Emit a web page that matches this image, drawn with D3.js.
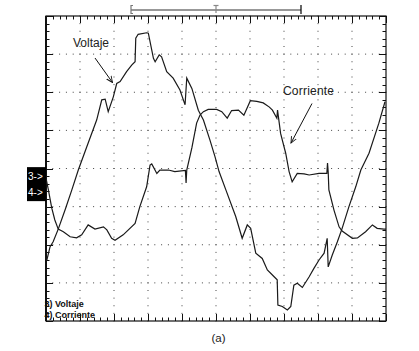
<!DOCTYPE html>
<html><head><meta charset="utf-8">
<script src="https://cdn.jsdelivr.net/npm/d3@7"></script>
<style>body{margin:0;background:#fff}svg{display:block}text{font-family:"Liberation Sans",Arial,sans-serif}</style>
</head><body>
<svg id="c" width="419" height="351"></svg>
<script>
// time axis in divisions (0..10), amplitude in divisions (-4..4)
const voltT = [0.02,0.12,0.21,0.36,0.56,0.76,0.95,1.20,1.49,1.64,1.74,1.83,1.98,2.08,2.18,2.37,2.52,2.62,2.64,2.71,2.96,3.01,3.16,3.21,3.33,3.40,3.55,3.74,3.94,4.09,4.14,4.29,4.48,4.63,4.82,4.97,5.09,5.29,5.58,5.77,5.92,6.02,6.17,6.36,6.51,6.71,6.80,6.82,6.95,7.10,7.20,7.29,7.39,7.54,7.74,7.88,8.03,8.18,8.27,8.30,8.42,8.57,8.71,8.91,9.11,9.26,9.50,9.79,9.97];
const voltV = [-2.42,-2.05,-1.92,-1.59,-1.09,-0.56,-0.04,0.57,1.27,1.80,1.82,1.49,1.88,2.23,2.28,2.54,2.71,2.80,3.42,3.52,3.56,3.55,2.89,2.80,2.98,2.93,2.54,2.37,2.06,1.67,2.37,2.10,1.53,1.27,0.75,0.31,-0.08,-0.56,-1.26,-1.83,-1.48,-1.57,-2.22,-2.36,-2.66,-2.84,-2.92,-3.58,-3.62,-3.71,-3.62,-3.06,-3.01,-3.12,-2.84,-2.62,-2.40,-2.22,-1.83,-2.58,-2.27,-1.92,-1.57,-1.00,-0.48,-0.04,0.40,1.19,1.75];
const currT = [0,0.07,0.17,0.26,0.36,0.51,0.71,0.90,1.05,1.24,1.44,1.69,1.79,1.93,2.03,2.27,2.62,2.76,2.96,3.06,3.11,3.26,3.35,3.60,3.79,4.10,4.12,4.14,4.29,4.43,4.53,4.63,4.77,5.02,5.17,5.33,5.46,5.66,5.82,6.01,6.20,6.39,6.57,6.66,6.79,6.81,6.90,7.05,7.15,7.24,7.39,7.59,7.74,8.03,8.26,8.28,8.30,8.32,8.47,8.62,8.71,9.01,9.16,9.40,9.60,9.74,9.94,10.0];
const currV = [-0.25,-0.56,-1.04,-1.35,-1.59,-1.66,-1.79,-1.82,-1.74,-1.48,-1.59,-1.53,-1.61,-1.83,-1.88,-1.74,-1.44,-1.00,-0.48,0.09,0.12,-0.13,-0.04,-0.04,-0.08,-0.05,-0.38,-0.04,0.54,1.19,1.40,1.49,1.55,1.55,1.49,1.32,1.52,1.53,1.40,1.78,1.76,1.72,1.61,1.53,1.32,1.53,0.92,0.40,-0.08,-0.35,-0.13,-0.14,-0.17,-0.13,-0.13,0.14,-0.09,-0.56,-1.09,-1.53,-1.64,-1.83,-1.82,-1.66,-1.48,-1.57,-1.59,-1.59];
const channelLabels = ["3) Voltaje", "4) Corriente"];
const markerLabels = ["3->", "4->"];
const markerLevels = [-0.2, -0.62];
const cursorRange = [2.5, 7.5];
const triggerPos = 5;

const svg = d3.select("#c");
const x = d3.scaleLinear().domain([0,10]).range([46,386]);
const y = d3.scaleLinear().domain([-4,4]).range([321,16]);

// grid dots
const g = svg.append("g").attr("fill","#444");
const minorX = d3.range(0,10.001,0.2), minorY = d3.range(-4,4.001,0.2);
for (let i=1;i<10;i++) minorY.forEach(v=>g.append("rect").attr("x",x(i)-0.5).attr("y",y(v)-0.5).attr("width",1).attr("height",1));
for (let j=-3;j<=3;j++) minorX.forEach(v=>g.append("rect").attr("x",x(v)-0.5).attr("y",y(j)-0.5).attr("width",1).attr("height",1));

// frame ticks
const t = svg.append("g").attr("stroke","#111").attr("stroke-width",1);
const isMaj = v => Math.abs(v-Math.round(v))<1e-6;
minorX.forEach(v=>{
  const L = isMaj(v)?7:3.5;
  t.append("line").attr("x1",Math.round(x(v))+0.5).attr("x2",Math.round(x(v))+0.5).attr("y1",y(4)).attr("y2",y(4)+L);
  t.append("line").attr("x1",Math.round(x(v))+0.5).attr("x2",Math.round(x(v))+0.5).attr("y1",y(-4)).attr("y2",y(-4)-L);
});
minorY.forEach(v=>{
  const L = isMaj(v)?7:3.5;
  t.append("line").attr("y1",Math.round(y(v))+0.5).attr("y2",Math.round(y(v))+0.5).attr("x1",x(0)).attr("x2",x(0)+L);
  t.append("line").attr("y1",Math.round(y(v))+0.5).attr("y2",Math.round(y(v))+0.5).attr("x1",x(10)).attr("x2",x(10)-L);
});
svg.append("rect").attr("x",x(0)).attr("y",y(4)).attr("width",x(10)-x(0)).attr("height",y(-4)-y(4))
  .attr("fill","none").attr("stroke","#111").attr("stroke-width",1.2);
svg.append("line").attr("x1",x(0)).attr("x2",x(0)).attr("y1",y(4)).attr("y2",y(-4)).attr("stroke","#111").attr("stroke-width",2);

// traces
const line = d3.line().x(d=>x(d[0])).y(d=>y(d[1]));
svg.append("path").attr("d",line(voltT.map((v,i)=>[v,voltV[i]]))).attr("fill","none").attr("stroke","#1a1a1a").attr("stroke-width",1.2);
svg.append("path").attr("d",line(currT.map((v,i)=>[v,currV[i]]))).attr("fill","none").attr("stroke","#1a1a1a").attr("stroke-width",1.2);

// cursor bar
const cb = svg.append("g").attr("stroke","#333").attr("stroke-width",1.2);
cb.append("line").attr("x1",x(cursorRange[0])).attr("x2",x(cursorRange[1])).attr("y1",10).attr("y2",10);
cb.append("line").attr("x1",x(cursorRange[0])).attr("x2",x(cursorRange[0])).attr("y1",5).attr("y2",14).attr("stroke","#777");
cb.append("line").attr("x1",x(cursorRange[0])).attr("x2",x(cursorRange[0])+2).attr("y1",5.5).attr("y2",5.5).attr("stroke","#777");
cb.append("line").attr("x1",x(cursorRange[0])).attr("x2",x(cursorRange[0])+2).attr("y1",13.5).attr("y2",13.5).attr("stroke","#777");
cb.append("line").attr("x1",x(cursorRange[1])).attr("x2",x(cursorRange[1])).attr("y1",5).attr("y2",14).attr("stroke","#000");
cb.append("line").attr("x1",x(triggerPos)).attr("x2",x(triggerPos)).attr("y1",5).attr("y2",13).attr("stroke","#888");
cb.append("line").attr("x1",x(triggerPos)-2.5).attr("x2",x(triggerPos)+2.5).attr("y1",5.5).attr("y2",5.5).attr("stroke","#888");

// channel markers
svg.append("rect").attr("x",27).attr("y",y(markerLevels[0])-9).attr("width",x(0)-27).attr("height",34).attr("fill","#000");
markerLabels.forEach((m,i)=>svg.append("text").attr("x",28).attr("y",y(markerLevels[i])+3.5).attr("fill","#fff").attr("font-size",10).text(m));

// channel labels
channelLabels.forEach((s,i)=>svg.append("text").attr("x",44.5).attr("y",307+i*11).attr("font-size",9).attr("font-weight","bold").attr("fill","#111").text(s));

// annotations
const defs = svg.append("defs");
defs.append("marker").attr("id","ah").attr("viewBox","0 0 10 10").attr("refX",9).attr("refY",5).attr("markerWidth",7).attr("markerHeight",7).attr("orient","auto")
  .append("path").attr("d","M0,1 L9,5 L0,9").attr("fill","none").attr("stroke","#111").attr("stroke-width",1.3);
svg.append("text").attr("x",73).attr("y",47).attr("font-size",12).attr("fill","#222").text("Voltaje");
svg.append("line").attr("x1",95).attr("y1",58).attr("x2",112.5).attr("y2",82.5).attr("stroke","#111").attr("marker-end","url(#ah)");
svg.append("text").attr("x",283).attr("y",95).attr("font-size",12).attr("fill","#222").attr("textLength",51).text("Corriente");
svg.append("line").attr("x1",312).attr("y1",103.5).attr("x2",291).attr("y2",143).attr("stroke","#111").attr("marker-end","url(#ah)");
svg.append("text").attr("x",218.5).attr("y",342).attr("text-anchor","middle").attr("font-size",11.5).attr("fill","#222").text("(a)");
</script>
</body></html>
